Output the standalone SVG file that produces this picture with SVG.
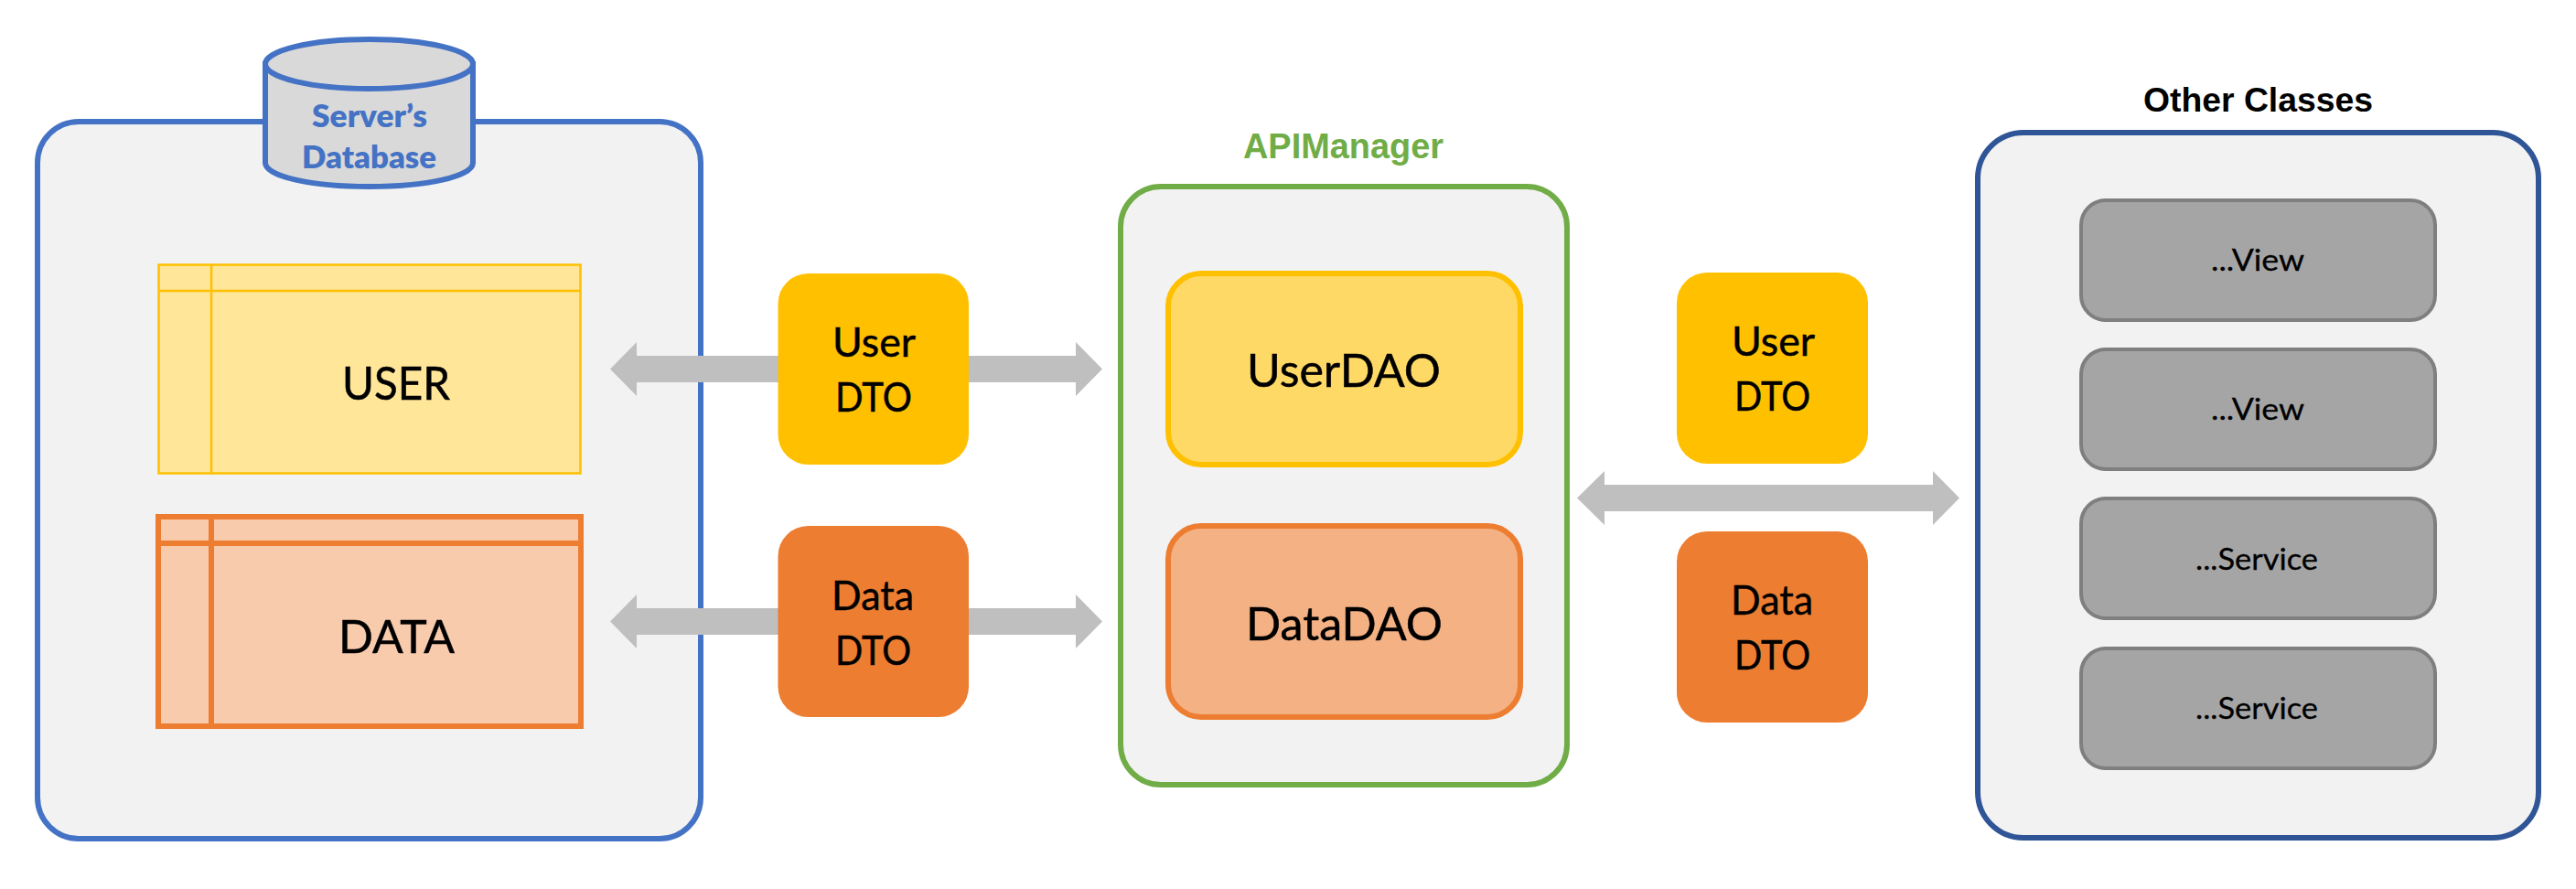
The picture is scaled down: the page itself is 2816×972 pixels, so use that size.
<svg xmlns="http://www.w3.org/2000/svg" width="2816" height="972" viewBox="0 0 2816 972">
<style>
text{font-family:"Lato","Open Sans","Liberation Sans",sans-serif;fill:#000}
.t50,.t43,.t33{stroke:#000;stroke-width:.5px}
.h{font-family:"Liberation Sans",Arial,sans-serif;font-weight:700}
.db{font-size:34px;font-weight:800;fill:#4472C4}
.c{fill:#F2F2F2;stroke-width:6}
.t50{font-size:50px}
.t43{font-size:44px}
.t33{font-size:33px;stroke-width:.3px}
.dto{stroke:none}
.grey{fill:#A5A5A5;stroke:#7F7F7F;stroke-width:4}
.arrow{fill:#BFBFBF;stroke:none}
</style>
<rect width="2816" height="972" fill="#FFFFFF"/>
<g id="server-container"><rect class="c" x="41" y="133" width="725" height="784" rx="45" ry="45" stroke="#4472C4"/></g>
<g id="api-manager"><rect class="c" x="1225" y="204" width="488" height="654" rx="44" ry="44" stroke="#70AD47"/>
<text class="h" x="1359" y="173" font-size="38" textLength="219" lengthAdjust="spacingAndGlyphs" style="fill:#70AD47">APIManager</text></g>
<g id="other-classes"><rect class="c" x="2162" y="145" width="613" height="771" rx="50" ry="50" stroke="#2F5597"/>
<text class="h" x="2343" y="122" font-size="37" textLength="251" lengthAdjust="spacingAndGlyphs">Other Classes</text></g>
<g id="database">
<path d="M290 70V178C290 193 341 204 403.500 204S517 193 517 178V70Z" fill="#D9D9D9" stroke="#4472C4" stroke-width="6"/>
<ellipse cx="403.500" cy="70" rx="113.500" ry="27" fill="#D9D9D9" stroke="#4472C4" stroke-width="6"/>
<text class="db" x="341" y="139" textLength="126" lengthAdjust="spacingAndGlyphs">Server’s</text>
<text class="db" x="330" y="184" textLength="147" lengthAdjust="spacingAndGlyphs">Database</text>
</g>
<g id="user-table">
<rect x="173.500" y="289.500" width="461" height="228" fill="#FFE699" stroke="#FFC000" stroke-width="2.500"/>
<path d="M231 289V518M173 318H635" fill="none" stroke="#FFC000" stroke-width="2.500"/>
<text class="t50" x="374" y="437" textLength="118" lengthAdjust="spacingAndGlyphs">USER</text>
</g>
<g id="data-table">
<rect x="173" y="565" width="462" height="229" fill="#F8CBAD" stroke="#ED7D31" stroke-width="6"/>
<path d="M231 565V794M173 594H635" fill="none" stroke="#ED7D31" stroke-width="6"/>
<text class="t50" x="370" y="714" textLength="127" lengthAdjust="spacingAndGlyphs">DATA</text>
</g>
<g id="user-dao"><rect x="1277" y="299" width="385" height="209" rx="36" ry="36" fill="#FFD966" stroke="#FFC000" stroke-width="6"/>
<text class="t50" x="1363" y="423" textLength="212" lengthAdjust="spacingAndGlyphs">UserDAO</text></g>
<g id="data-dao"><rect x="1277" y="575" width="385" height="209" rx="36" ry="36" fill="#F4B183" stroke="#ED7D31" stroke-width="6"/>
<text class="t50" x="1362" y="700" textLength="215" lengthAdjust="spacingAndGlyphs">DataDAO</text></g>
<g id="view-1"><rect class="grey" x="2275" y="219" width="387" height="131" rx="27" ry="27"/>
<text class="t33" x="2417" y="296" textLength="102" lengthAdjust="spacingAndGlyphs">...View</text></g>
<g id="view-2"><rect class="grey" x="2275" y="382" width="387" height="131" rx="27" ry="27"/>
<text class="t33" x="2417" y="459" textLength="102" lengthAdjust="spacingAndGlyphs">...View</text></g>
<g id="service-1"><rect class="grey" x="2275" y="545" width="387" height="131" rx="27" ry="27"/>
<text class="t33" x="2400" y="623" textLength="134" lengthAdjust="spacingAndGlyphs">...Service</text></g>
<g id="service-2"><rect class="grey" x="2275" y="709" width="387" height="131" rx="27" ry="27"/>
<text class="t33" x="2400" y="786" textLength="134" lengthAdjust="spacingAndGlyphs">...Service</text></g>
<g id="connectors">
<path class="arrow" d="M667 403.500L696 374V389H1176V374L1205 403.500L1176 433V418H696V433Z"/>
<path class="arrow" d="M667 679.500L696 650V665H1176V650L1205 679.500L1176 709V694H696V709Z"/>
<path class="arrow" d="M1724 544.500L1754 515V530H2113V515L2142 544.500L2113 574V559H1754V574Z"/>
</g>
<g id="user-dto-left"><rect class="dto" x="850.500" y="299" width="208.500" height="209" rx="33" ry="33" fill="#FFC000"/>
<text class="t43" x="910" y="390" textLength="91" lengthAdjust="spacingAndGlyphs">User</text>
<text class="t43" x="913" y="450" textLength="84" lengthAdjust="spacingAndGlyphs">DTO</text></g>
<g id="data-dto-left"><rect class="dto" x="850.500" y="575" width="208.500" height="209" rx="33" ry="33" fill="#ED7D31"/>
<text class="t43" x="909" y="667" textLength="90" lengthAdjust="spacingAndGlyphs">Data</text>
<text class="t43" x="913" y="727" textLength="83" lengthAdjust="spacingAndGlyphs">DTO</text></g>
<g id="user-dto-right"><rect class="dto" x="1833" y="298" width="209" height="209" rx="33" ry="33" fill="#FFC000"/>
<text class="t43" x="1893" y="389" textLength="91" lengthAdjust="spacingAndGlyphs">User</text>
<text class="t43" x="1896" y="449" textLength="83" lengthAdjust="spacingAndGlyphs">DTO</text></g>
<g id="data-dto-right"><rect class="dto" x="1833" y="581" width="209" height="209" rx="33" ry="33" fill="#ED7D31"/>
<text class="t43" x="1892" y="672" textLength="90" lengthAdjust="spacingAndGlyphs">Data</text>
<text class="t43" x="1896" y="732" textLength="83" lengthAdjust="spacingAndGlyphs">DTO</text></g>
</svg>
